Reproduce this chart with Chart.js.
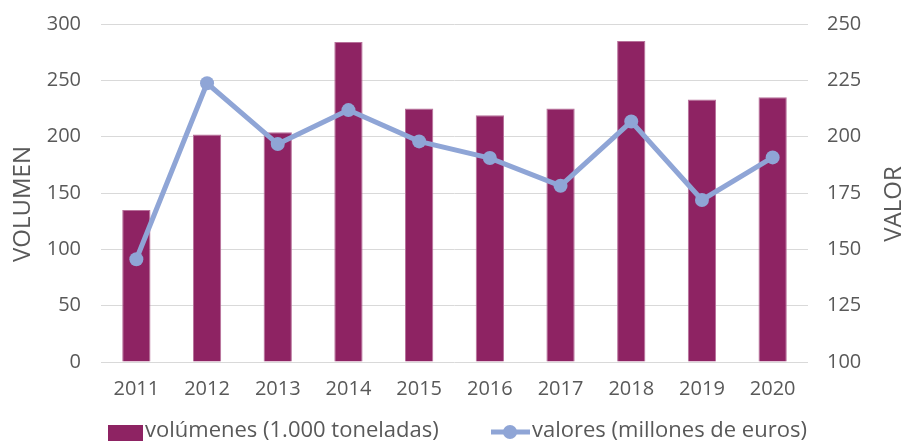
<!DOCTYPE html>
<html>
<head>
<meta charset="utf-8">
<script src="https://cdn.jsdelivr.net/npm/chart.js@4"></script>
<style>
  html, body { margin: 0; padding: 0; background: #fff; }
  #wrap { width: 905px; height: 441px; }
</style>
</head>
<body>
<div id="wrap"><canvas id="chart" width="905" height="441"></canvas></div>
<script>
const years = ["2011", "2012", "2013", "2014", "2015", "2016", "2017", "2018", "2019", "2020"];
const volumenes = [135, 202, 204, 284, 225, 219, 225, 285, 233, 235];
const valores = [145.6, 223.7, 196.7, 211.8, 197.9, 190.5, 178.2, 206.7, 171.9, 190.8];
const seriesNames = ["volúmenes (1.000 toneladas)", "valores (millones de euros)"];
const axisTitles = ["VOLUMEN", "VALOR"];

const BAR = "#8E2363";
const LINE = "#8FA5D6";
const TEXT = "#595959";
const FONT = "'Open Sans', sans-serif";

// axis titles (both read bottom-to-top) and the legend row, drawn by hand
const extras = {
  id: "extras",
  afterDraw(chart) {
    const ctx = chart.ctx;
    ctx.save();
    ctx.fillStyle = TEXT;
    ctx.font = "24px " + FONT;
    ctx.textAlign = "center";
    ctx.textBaseline = "middle";
    [[23, axisTitles[0]], [894, axisTitles[1]]].forEach(([x, t]) => {
      ctx.save();
      ctx.translate(x, 204);
      ctx.rotate(-Math.PI / 2);
      ctx.fillText(t, 0, 0);
      ctx.restore();
    });

    const y = 431;
    ctx.textAlign = "left";
    ctx.font = "22px " + FONT;

    ctx.fillStyle = BAR;
    ctx.fillRect(108, y - 6, 35, 16);
    ctx.fillStyle = TEXT;
    ctx.fillText(seriesNames[0], 145, y);

    ctx.strokeStyle = LINE;
    ctx.lineWidth = 5;
    ctx.beginPath();
    ctx.moveTo(491, y + 1);
    ctx.lineTo(530, y + 1);
    ctx.stroke();
    ctx.fillStyle = LINE;
    ctx.beginPath();
    ctx.arc(510, y + 1, 7, 0, Math.PI * 2);
    ctx.fill();
    ctx.fillStyle = TEXT;
    ctx.fillText(seriesNames[1], 532, y);
    ctx.restore();
  }
};

// fixed axis width, and drop the extra vertical padding chart.js adds for tick padding
function fitY(width) {
  return (scale) => {
    scale.width = width;
    scale.paddingTop = 0;
    scale.paddingBottom = 0;
  };
}

new Chart(document.getElementById("chart"), {
  data: {
    labels: years,
    datasets: [
      {
        type: "line",
        label: seriesNames[1],
        data: valores,
        yAxisID: "yValor",
        borderColor: LINE,
        backgroundColor: LINE,
        borderWidth: 5,
        pointRadius: 7,
        pointHoverRadius: 7,
        pointBorderWidth: 0,
        tension: 0,
        order: 0
      },
      {
        type: "bar",
        label: seriesNames[0],
        data: volumenes,
        yAxisID: "yVol",
        backgroundColor: BAR,
        borderColor: "#B7709A",
        borderWidth: { top: 1, left: 1, right: 1, bottom: 0 },
        barPercentage: 0.4,
        categoryPercentage: 1,
        order: 1
      }
    ]
  },
  options: {
    responsive: false,
    animation: false,
    layout: { padding: { top: 24, bottom: 0, left: 0, right: 0 } },
    plugins: {
      legend: { display: false },
      tooltip: { enabled: false }
    },
    scales: {
      x: {
        grid: { display: false, drawTicks: false },
        border: { display: false },
        ticks: { color: TEXT, font: { family: FONT, size: 20 }, padding: 15, maxRotation: 0 },
        afterFit(scale) { scale.height = 79; }
      },
      yVol: {
        position: "left",
        min: 0,
        max: 300,
        ticks: { stepSize: 50, color: TEXT, font: { family: FONT, size: 20 }, padding: 20 },
        grid: { color: "#D9D9D9", lineWidth: 1, drawTicks: false },
        border: { display: false },
        afterFit: fitY(101)
      },
      yValor: {
        position: "right",
        min: 100,
        max: 250,
        ticks: { stepSize: 25, color: TEXT, font: { family: FONT, size: 20 }, padding: 19 },
        grid: { display: false, drawTicks: false },
        border: { display: false },
        afterFit: fitY(97)
      }
    }
  },
  plugins: [extras]
});
</script>
</body>
</html>
